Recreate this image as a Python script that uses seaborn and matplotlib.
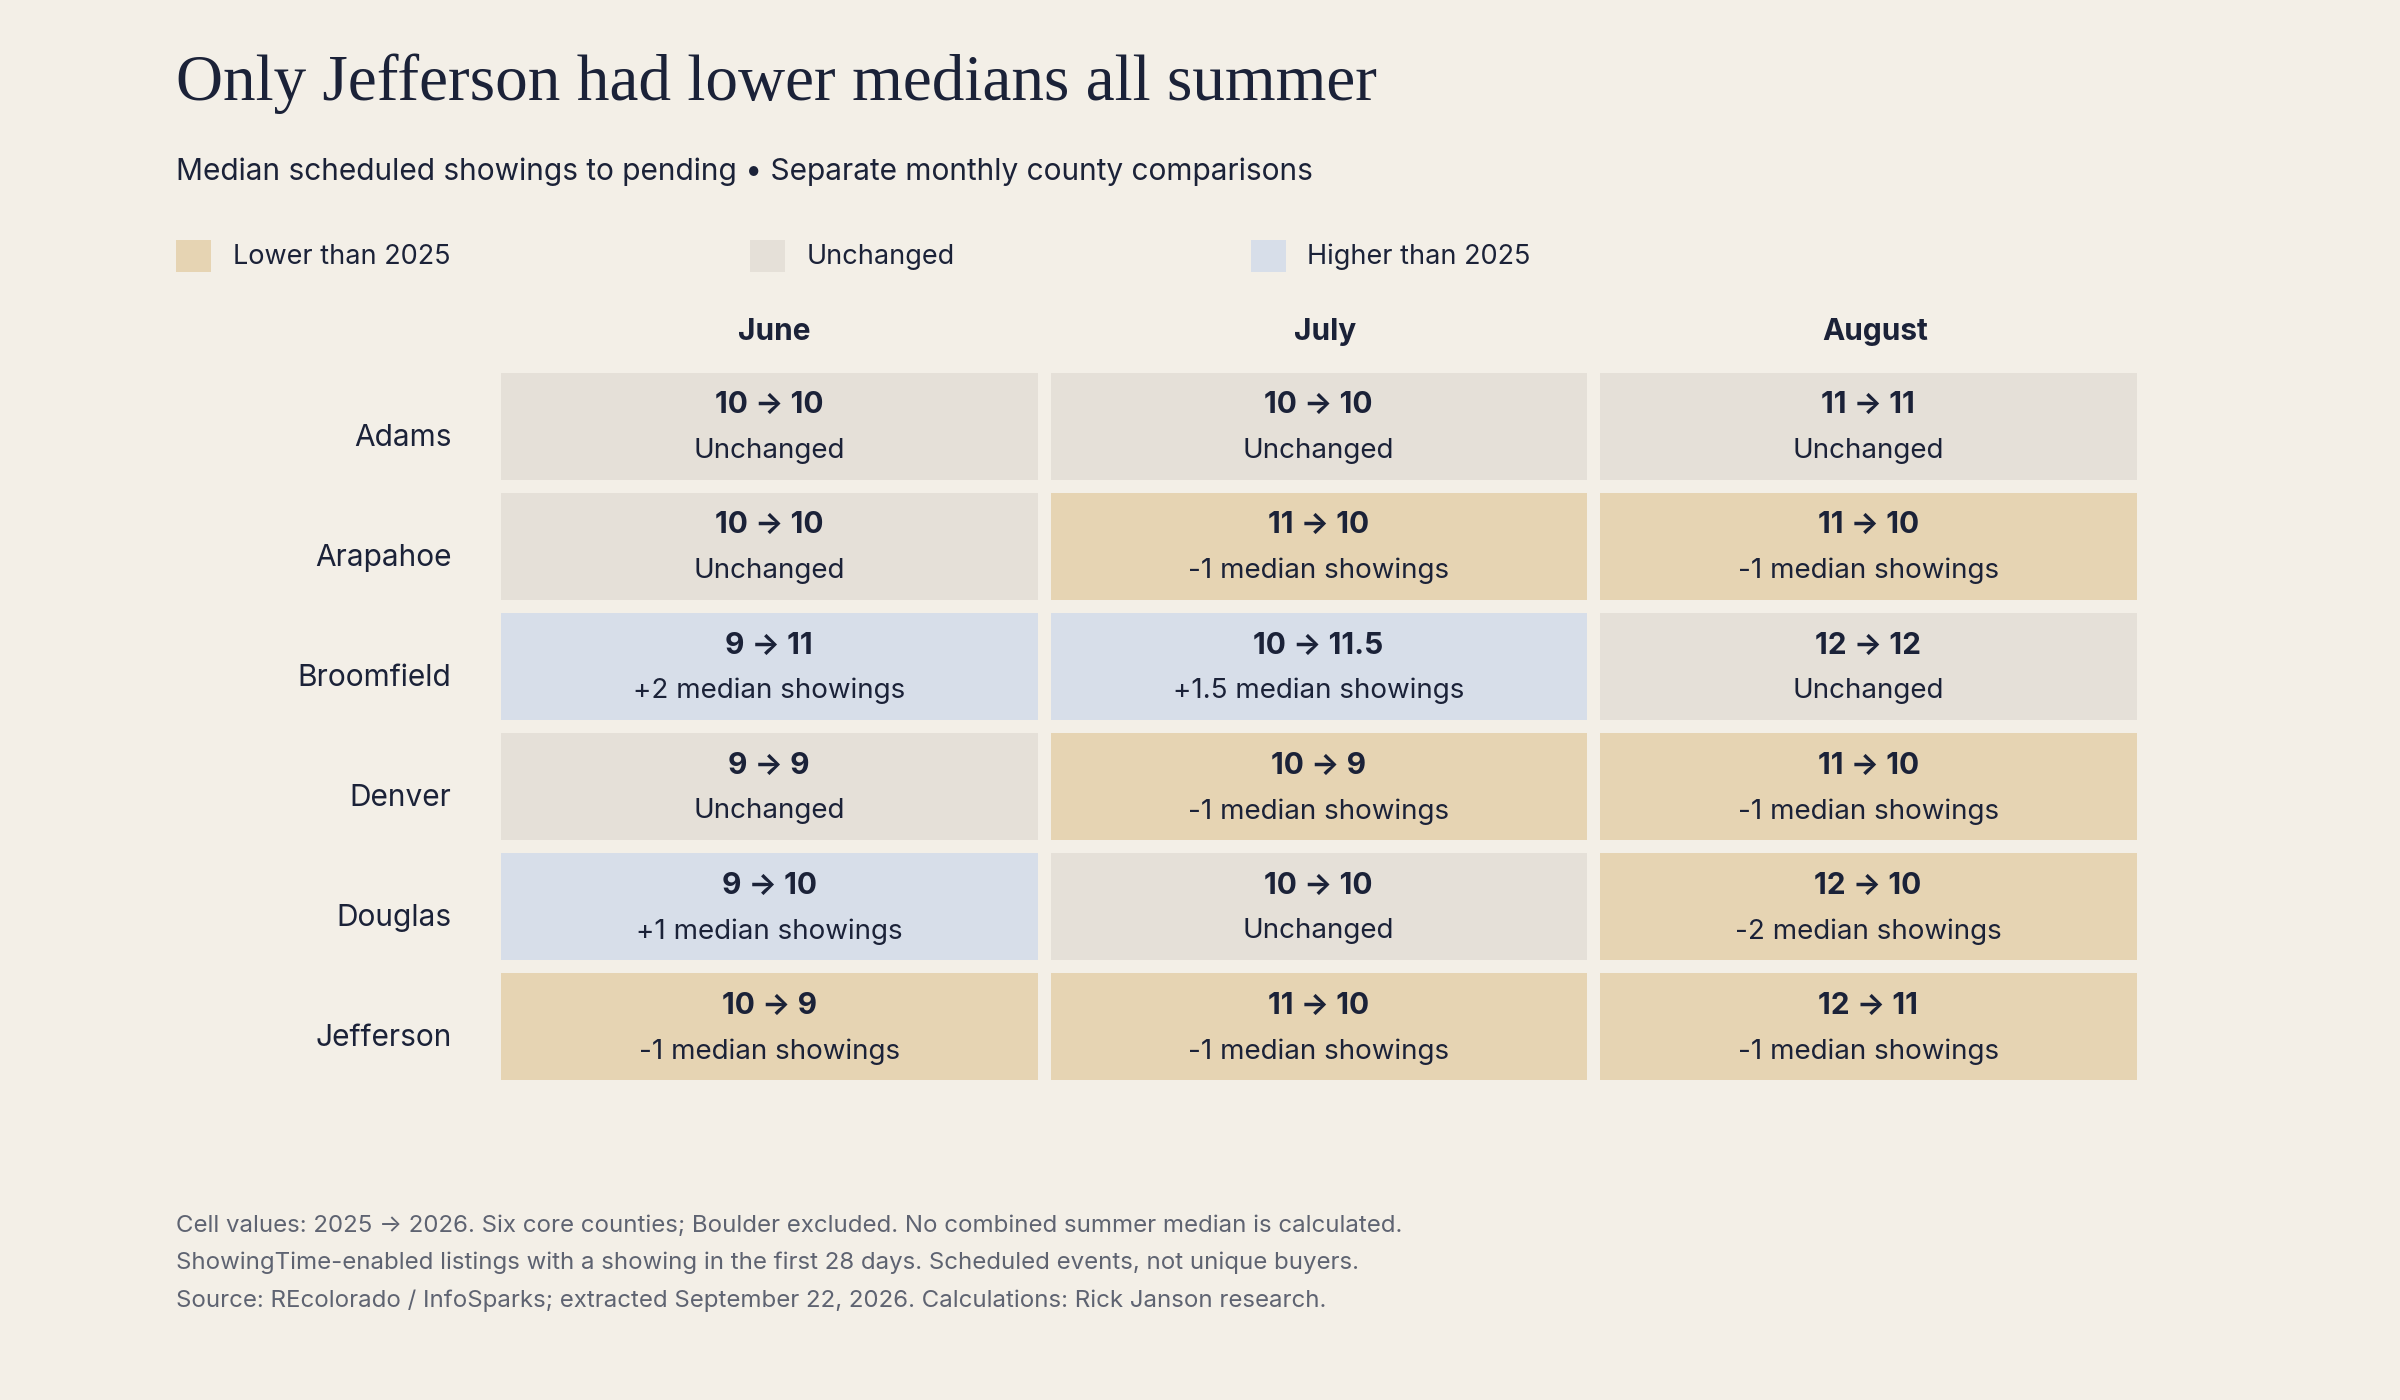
import numpy as np
import pandas as pd
import seaborn as sns
import matplotlib.pyplot as plt
from matplotlib.colors import ListedColormap
from matplotlib.patches import Rectangle

counties = ['Adams', 'Arapahoe', 'Broomfield', 'Denver', 'Douglas', 'Jefferson']
months = ['June', 'July', 'August']
v2025 = [[10, 10, 11], [10, 11, 11], [9, 10, 12], [9, 10, 11], [9, 10, 12], [10, 11, 12]]
v2026 = [[10, 10, 11], [10, 10, 10], [11, 11.5, 12], [9, 9, 10], [10, 10, 10], [9, 10, 11]]

BG = '#F3EFE7'
INK = '#1B2238'
colors = ['#E6D4B3', '#E5E0D8', '#D7DEE9']  # lower, unchanged, higher

old = np.array(v2025, dtype=float)
new = np.array(v2026, dtype=float)
diff = new - old
cat = np.sign(diff)
df = pd.DataFrame(cat, index=counties, columns=months)

def fmt(v):
    return f'{v:g}'

fig = plt.figure(figsize=(24, 14), dpi=100, facecolor=BG)
W, H = 1568, 915
ax = fig.add_axes([323 / W, 1 - 710 / H, (1400 - 323) / W, (710 - 239) / H])
sns.heatmap(df, ax=ax, cmap=ListedColormap(colors), vmin=-1.5, vmax=1.5, cbar=False,
            linewidths=9, linecolor=BG)
ax.set_facecolor(BG)
ax.set_xticks([]); ax.set_yticks([])
ax.set_xlabel(''); ax.set_ylabel('')
for s in ax.spines.values():
    s.set_visible(False)

for i in range(len(counties)):
    for j in range(len(months)):
        ax.text(j + 0.5, i + 0.33, f'{fmt(old[i, j])} → {fmt(new[i, j])}', ha='center', va='center',
                fontsize=21.5, fontweight='bold', color=INK, family=['DejaVu Sans'] if False else ['Inter', 'DejaVu Sans'])
        d = diff[i, j]
        sub = 'Unchanged' if d == 0 else f'{d:+g} median showings'
        ax.text(j + 0.5, i + 0.71, sub, ha='center', va='center', fontsize=20, color=INK,
                family=['Inter', 'DejaVu Sans'])
    fig.text(295 / W, 1 - (286 + i * 78.5) / H, counties[i], ha='right', va='center',
             fontsize=21.5, color=INK, family='Inter')

for j, m in enumerate(months):
    fig.text((506 + j * 359.5) / W, 1 - 217 / H, m, ha='center', va='center', fontsize=21.5,
             fontweight='bold', color=INK, family='Inter')

fig.text(115 / W, 1 - 55 / H, 'Only Jefferson had lower medians all summer', ha='left', va='center',
         fontsize=47, color=INK, family='Liberation Serif')
fig.text(115 / W, 1 - 112 / H, 'Median scheduled showings to pending • Separate monthly county comparisons',
         ha='left', va='center', fontsize=21.5, color=INK, family='Inter')

legend = [('Lower than 2025', 115, colors[0]), ('Unchanged', 490, colors[1]), ('Higher than 2025', 817, colors[2])]
for lab, x, c in legend:
    fig.add_artist(Rectangle((x / W, 1 - 178 / H), 23 / W, 21 / H, transform=fig.transFigure,
                             facecolor=c, edgecolor='none'))
    fig.text((x + 37) / W, 1 - 168 / H, lab, ha='left', va='center', fontsize=19.5, color=INK, family='Inter')

notes = ['Cell values: 2025 → 2026. Six core counties; Boulder excluded. No combined summer median is calculated.',
         'ShowingTime-enabled listings with a showing in the first 28 days. Scheduled events, not unique buyers.',
         'Source: REcolorado / InfoSparks; extracted September 22, 2026. Calculations: Rick Janson research.']
for k, n in enumerate(notes):
    fig.text(115 / W, 1 - (801 + k * 24.5) / H, n, ha='left', va='center', fontsize=17.3,
             color='#5E6371', family=['Inter', 'DejaVu Sans'])

fig.savefig('out.png', facecolor=BG)
